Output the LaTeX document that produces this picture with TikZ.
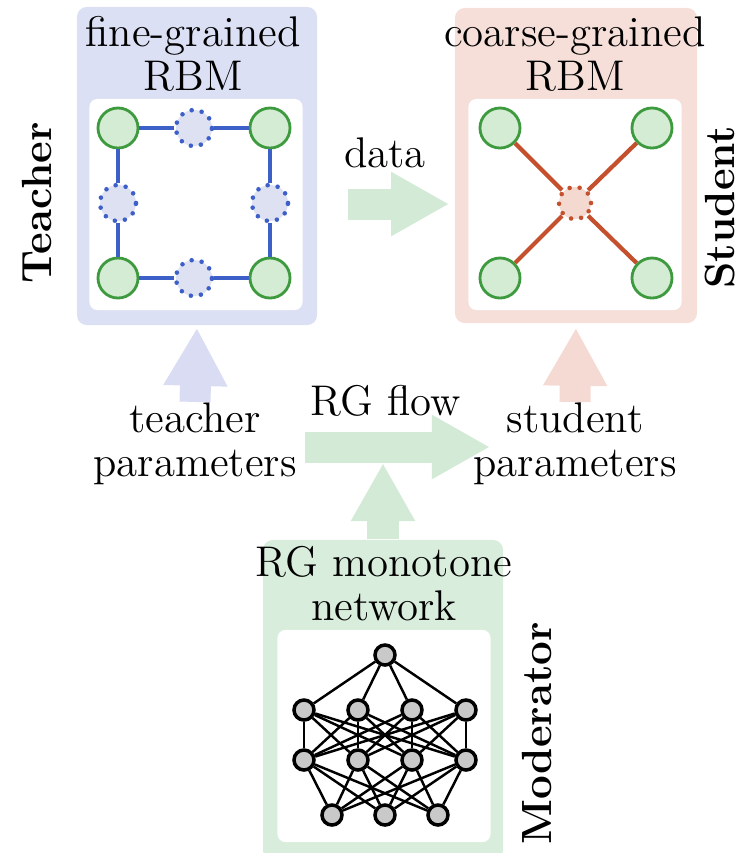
\documentclass[tikz,border=0pt]{standalone}
\usepackage{tikz}
\usetikzlibrary{arrows.meta, positioning, calc}
\definecolor{rbmblue}{HTML}{3D5FC8}
\definecolor{rbmred}{HTML}{C4502E}
\definecolor{rbmgreen}{HTML}{3E9A3E}
\definecolor{visfill}{HTML}{D4ECD4}
\definecolor{teachbg}{HTML}{DCE0F4}
\definecolor{studbg}{HTML}{F6DFD9}
\definecolor{modbg}{HTML}{D8EDDB}
\definecolor{flowgreen}{HTML}{D3EAD7}
\definecolor{tarrow}{HTML}{D9DCF3}
\definecolor{sarrow}{HTML}{F5DAD3}
\definecolor{hidblue}{HTML}{DDE1F2}
\definecolor{hidred}{HTML}{F4D9D0}
\definecolor{netgray}{HTML}{C9C9C9}

\begin{document}
\begin{tikzpicture}[
  x=0.01cm, y=-0.01cm,
  every node/.style={font=\fontsize{12.2}{12.4}\selectfont},
  panel/.style={rectangle, rounded corners=0.1cm, fill=#1, minimum width=2.4cm, minimum height=3.18cm, inner sep=0pt},
  inset/.style={rectangle, rounded corners=0.08cm, fill=white, minimum width=2.13cm, minimum height=2.11cm, inner sep=0pt},
  vis/.style={circle, draw=rbmgreen, fill=visfill, line width=0.8pt, minimum size=0.4cm, inner sep=0pt},
  hid/.style={circle, draw=#1, dash pattern=on 0pt off 2.9pt, line cap=round, line width=1.3pt, minimum size=0.36cm, inner sep=0pt},
  unit/.style={circle, draw=black, fill=netgray, line width=1pt, minimum size=0.2cm, inner sep=0pt},
  netline/.style={black, line width=0.7pt},
  fat/.style={draw=#1, line width=0.31cm, -{Triangle[width=0.6cm, length=0.58cm]}},
  role/.style={font=\fontsize{12}{12}\selectfont\bfseries, rotate=90},
  caption/.style={align=center, inner sep=0pt, anchor=base},
]
\useasboundingbox (0,0) rectangle (741,853);

% Panels
\node[panel=teachbg] (teacher) at (197,166) {};
\node[panel=studbg, minimum width=2.42cm, minimum height=3.15cm] (student) at (576,165.5) {};
\node[panel=modbg, minimum height=3.2cm] (moderator) at (383,700) {};
\node[inset] (tinset) at (196,204.5) {};
\node[inset] (sinset) at (575,204.5) {};
\node[inset, minimum height=2.12cm] (minset) at (384,736) {};

% Labels (anchored at the last baseline)
\node[caption] (ttitle) at (193,90) {fine-grained\\RBM};
\node[caption] (stitle) at (575,90) {coarse-grained\\RBM};
\node[caption] (datalbl) at (385,167) {data};
\node[caption] (flowlbl) at (386,415) {RG flow};
\node[caption] (tparam) at (195,476) {teacher\\parameters};
\node[caption] (sparam) at (575,476) {student\\parameters};
\node[caption] (mtitle) at (384,620) {RG monotone\\network};
\node[role] (teachlbl) at (37,203) {Teacher};
\node[role] (studlbl) at (720,207) {Student};
\node[role] (modlbl) at (537,733) {Moderator};

% Fine-grained RBM
\node[vis] (t1) at (118,128) {};
\node[vis] (t2) at (270,128) {};
\node[vis] (t3) at (118,278) {};
\node[vis] (t4) at (270,278) {};
\node[hid=rbmblue, fill=hidblue] (h1) at (194,128) {};
\node[hid=rbmblue, fill=hidblue] (h2) at (118,203) {};
\node[hid=rbmblue, fill=hidblue] (h3) at (270,203) {};
\node[hid=rbmblue, fill=hidblue] (h4) at (194,278) {};
\draw[rbmblue, line width=1.2pt] (t1) -- (h1) -- (t2) -- (h3) -- (t4) -- (h4) -- (t3) -- (h2) -- (t1);

% Coarse-grained RBM
\node[vis] (s1) at (500,128) {};
\node[vis] (s2) at (652,128) {};
\node[vis] (s3) at (500,278) {};
\node[vis] (s4) at (652,278) {};
\node[hid=rbmred, fill=hidred, minimum size=0.32cm] (sh) at (575,203) {};
\draw[rbmred, line width=1.2pt] (s1) -- (sh) -- (s4) (s2) -- (sh) -- (s3);

% Monotone network
\node[unit] (n0) at (385,655) {};
\foreach \i/\x in {1/304,2/358,3/412,4/466} {
  \node[unit] (a\i) at (\x,710) {};
  \node[unit] (b\i) at (\x,760) {};
}
\foreach \k/\x in {1/332,2/385,3/438} \node[unit] (c\k) at (\x,815) {};
\foreach \i in {1,...,4} {
  \draw[netline] (n0) -- (a\i);
  \foreach \j in {1,...,4} \draw[netline] (a\i) -- (b\j);
  \foreach \k in {1,2,3} \draw[netline] (b\i) -- (c\k);
}

% Block arrows
\coordinate (flowtip) at (490,447);
\draw[fat=flowgreen, shorten <=0.3cm, shorten >=0.05cm] ([yshift=-0.38cm]teacher.east) -- ([yshift=-0.38cm]teacher.east -| student.west);
\draw[fat=tarrow, shorten >=0.02cm] (tparam.north) -- (teacher.south);
\draw[fat=sarrow, shorten >=0.04cm] (sparam.north) -- (student.south);
\draw[fat=flowgreen, shorten <=0.08cm] (tparam.east |- flowtip) -- (flowtip);
\draw[fat=flowgreen, shorten >=0.16cm] (moderator.north) -- (moderator.north |- flowtip);

\end{tikzpicture}
\end{document}
